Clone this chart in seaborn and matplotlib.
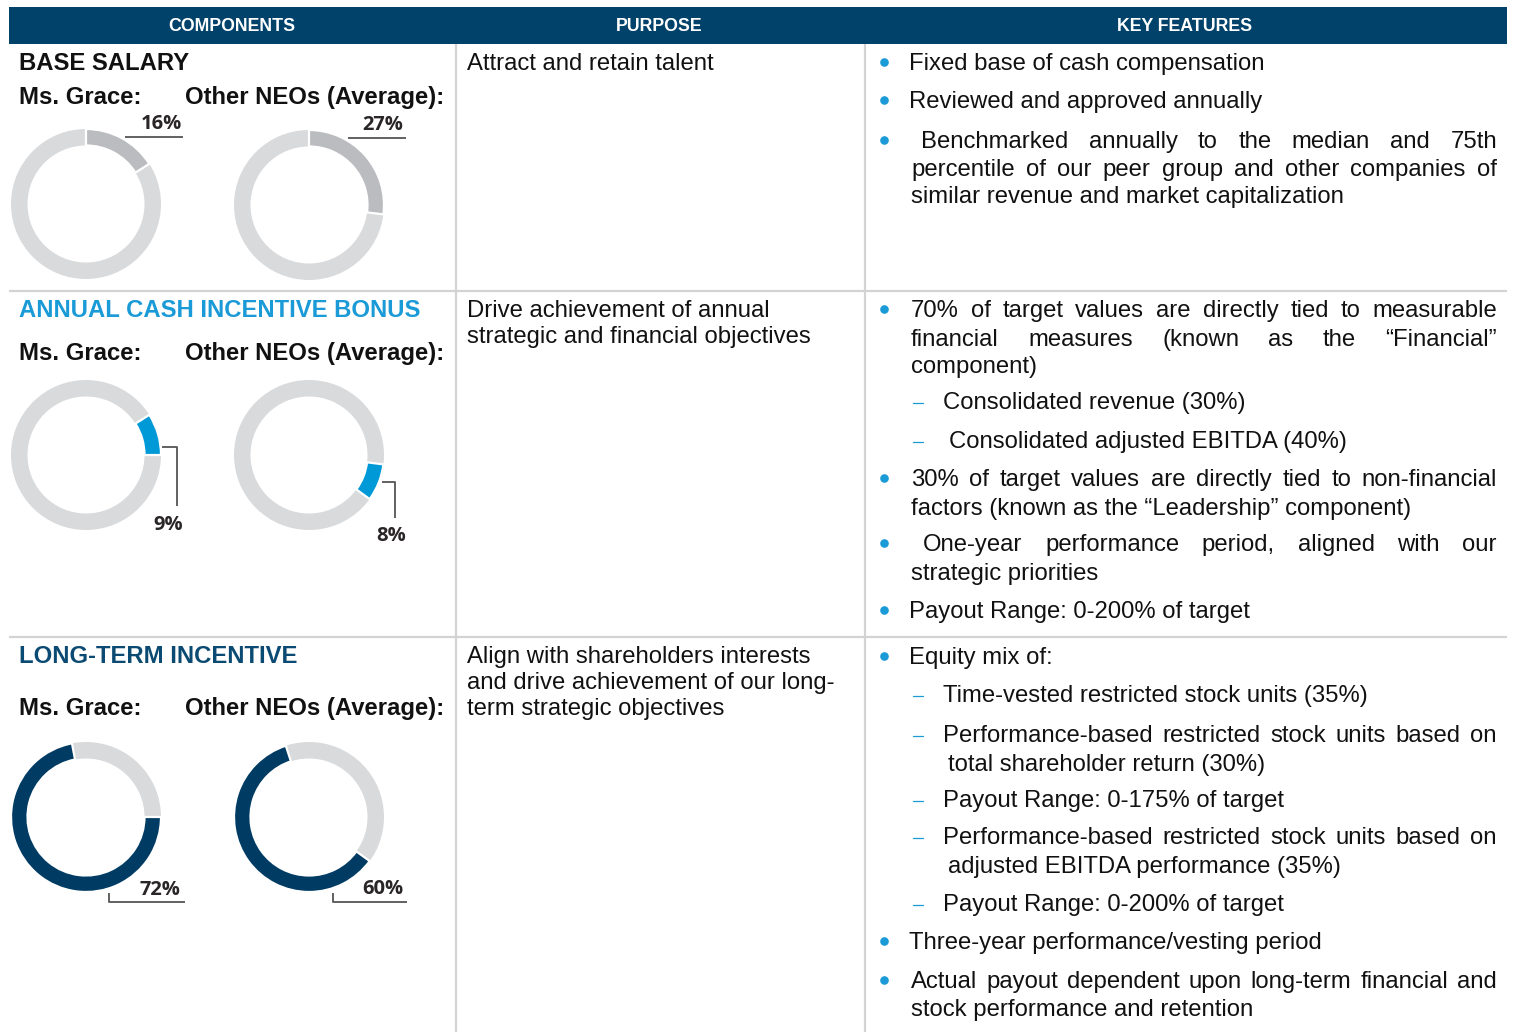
import matplotlib
matplotlib.use("Agg")
import matplotlib.pyplot as plt
import seaborn as sns

# ---------------- data ----------------
headers = ["COMPONENTS", "PURPOSE", "KEY FEATURES"]
components = ["BASE SALARY", "ANNUAL CASH INCENTIVE BONUS", "LONG-TERM INCENTIVE"]
people = ["Ms. Grace:", "Other NEOs (Average):"]
ceo_mix = [16, 9, 72]      # Ms. Grace pay mix (%)
neo_mix = [27, 8, 60]      # Other NEOs average pay mix (%)
purposes = [
    ["Attract and retain talent"],
    ["Drive achievement of annual", "strategic and financial objectives"],
    ["Align with shareholders interests", "and drive achievement of our long-",
     "term strategic objectives"],
]
# (style, text, justified)  b=bullet, c=continuation, d=dash item, e=dash continuation
features = [
    [("b", "Fixed base of cash compensation", False),
     ("b", "Reviewed and approved annually", False),
     ("b", "Benchmarked annually to the median and 75th", True),
     ("c", "percentile of our peer group and other companies of", True),
     ("c", "similar revenue and market capitalization", False)],
    [("b", "70% of target values are directly tied to measurable", True),
     ("c", "financial measures (known as the \u201cFinancial\u201d", True),
     ("c", "component)", False),
     ("d", "Consolidated revenue (30%)", False),
     ("d", "Consolidated adjusted EBITDA (40%)", False),
     ("b", "30% of target values are directly tied to non-financial", True),
     ("c", "factors (known as the \u201cLeadership\u201d component)", False),
     ("b", "One-year performance period, aligned with our", True),
     ("c", "strategic priorities", False),
     ("b", "Payout Range: 0-200% of target", False)],
    [("b", "Equity mix of:", False),
     ("d", "Time-vested restricted stock units (35%)", False),
     ("d", "Performance-based restricted stock units based on", True),
     ("e", "total shareholder return (30%)", False),
     ("d", "Payout Range: 0-175% of target", False),
     ("d", "Performance-based restricted stock units based on", True),
     ("e", "adjusted EBITDA performance (35%)", False),
     ("d", "Payout Range: 0-200% of target", False),
     ("b", "Three-year performance/vesting period", False),
     ("b", "Actual payout dependent upon long-term financial and", True),
     ("c", "stock performance and retention", False)],
]

# ---------------- layout ----------------
W, H = 1517, 1032
NAVY = "#00426a"
BLUE = "#1a9ad6"
LTI_NAVY = "#003b64"
RING_GRAY = "#d9dadc"
HI_COLORS = ["#bbbcbf", "#0099d8", LTI_NAVY]
HEAD_COLORS = ["#111111", "#1a9ad6", "#0b4a72"]
GRID = "#d3d3d3"

row_top = [44, 291, 637]
head_base = [70, 317, 663]
people_base = [104, 360, 715]
donut_cy = [[204, 205], [455, 455], [817, 817]]
donut_cx = [86, 309]
R_OUT, RING_W = 75, 16.5
purpose_base = [[70], [317, 343], [663, 689, 715]]
feat_base = [
    [70, 108, 148, 176, 203],
    [317, 346, 373, 409, 448, 486, 515, 551, 580, 618],
    [664, 702, 742, 771, 807, 844, 873, 911, 949, 988, 1016],
]
feat_x = [
    [909, 909, 921, 911, 911],
    [911, 911, 911, 943, 949, 911, 911, 923, 911, 909],
    [909, 943, 943, 948, 943, 943, 948, 943, 909, 911, 911],
]
X_RIGHT = 1497

sns.set_theme(style="white")
plt.rcParams["font.family"] = ["Liberation Sans", "DejaVu Sans"]

fig = plt.figure(figsize=(W / 100, H / 100), dpi=100)
ax = fig.add_axes([0, 0, 1, 1])
ax.set_xlim(0, W)
ax.set_ylim(H, 0)
ax.axis("off")
renderer = fig.canvas.get_renderer()

FS = 17.2
# header bar
ax.add_patch(plt.Rectangle((9, 7), 1498, 37, color=NAVY, lw=0))
for hx, htxt in zip([232, 659, 1185], headers):
    ax.text(hx, 31, htxt, color="white", fontsize=12.8, fontweight="bold",
            ha="center", va="baseline")

# grid lines
for x in [456, 865]:
    ax.plot([x, x], [44, H], color=GRID, lw=1.6, solid_capstyle="butt")
for y in row_top[1:]:
    ax.plot([9, 1507], [y, y], color=GRID, lw=1.6, solid_capstyle="butt")


def justified(text, x0, x1, y, **kw):
    words = text.split()
    objs = [ax.text(0, y, w, va="baseline", ha="left", **kw) for w in words]
    widths = [o.get_window_extent(renderer).width for o in objs]
    gap = (x1 - x0 - sum(widths)) / max(len(words) - 1, 1)
    x = x0
    for o, w in zip(objs, widths):
        o.set_x(x)
        x += w + gap


for r in range(3):
    # component column
    ax.text(19, head_base[r], components[r], color=HEAD_COLORS[r], fontsize=FS,
            fontweight="bold", va="baseline")
    ax.text(19, people_base[r], people[0], color="#111111", fontsize=FS,
            fontweight="bold", va="baseline")
    ax.text(185, people_base[r], people[1], color="#111111", fontsize=FS,
            fontweight="bold", va="baseline")
    # purpose column
    for line, yb in zip(purposes[r], purpose_base[r]):
        ax.text(467, yb, line, color="#111111", fontsize=FS, va="baseline")
    # key features column
    for (style, txt, just), yb, x0 in zip(features[r], feat_base[r], feat_x[r]):
        if style == "b":
            ax.plot([884], [yb - 8], "o", color=BLUE, ms=6.2, mec="none")
        elif style == "d":
            ax.plot([913, 923], [yb - 6, yb - 6], color=BLUE, lw=0.9)
        if just:
            justified(txt, x0, X_RIGHT, yb, color="#111111", fontsize=FS)
        else:
            ax.text(x0, yb, txt, color="#111111", fontsize=FS, va="baseline")

# ---------------- donuts ----------------
mixes = [ceo_mix, neo_mix]
for r in range(3):
    for p in range(2):
        vals = mixes[p]
        prev = sum(vals[:r])
        val = vals[r]
        rest = 100 - prev - val
        cx, cy = donut_cx[p], donut_cy[r][p]
        dax = fig.add_axes([(cx - R_OUT) / W, 1 - (cy + R_OUT) / H,
                            2 * R_OUT / W, 2 * R_OUT / H])
        dax.pie([100], colors=[RING_GRAY], radius=1, startangle=90,
                wedgeprops=dict(width=RING_W / R_OUT, linewidth=0))
        sizes = [s for s in [prev, val, rest] if s > 0]
        wedges, _ = dax.pie(sizes, radius=1, startangle=90, counterclock=False,
                            colors=["none"] * len(sizes),
                            wedgeprops=dict(width=RING_W / R_OUT, linewidth=0))
        idx = 1 if prev > 0 else 0
        wedges[idx].set_facecolor(HI_COLORS[r])
        wedges[idx].set_edgecolor("white")
        wedges[idx].set_linewidth(1.6)
        for k, wd in enumerate(wedges):
            if k != idx:
                wd.set_visible(False)
        dax.set_xlim(-1, 1)
        dax.set_ylim(-1, 1)
        dax.set_aspect("equal")
        dax.axis("off")

# ---------------- percentage labels ----------------
LBL = dict(fontsize=14.5, fontweight="bold", color="#2a2627",
           family=["Open Sans", "DejaVu Sans"], ha="center", va="baseline")
LC = dict(color="#555555", lw=1.3, solid_capstyle="butt")
# row 1
ax.text(161, 129, f"{ceo_mix[0]}%", **LBL)
ax.plot([125, 183], [137, 137], **LC)
ax.text(383, 130, f"{neo_mix[0]}%", **LBL)
ax.plot([348, 406], [138, 138], **LC)
# row 2
ax.text(168, 530, f"{ceo_mix[1]}%", **LBL)
ax.plot([162, 177, 177], [447, 447, 506], **LC)
ax.text(391, 541, f"{neo_mix[1]}%", **LBL)
ax.plot([382, 395, 395], [482, 482, 518], **LC)
# row 3
ax.text(160, 895, f"{ceo_mix[2]}%", **LBL)
ax.plot([109, 109, 185], [893, 902, 902], **LC)
ax.text(383, 894, f"{neo_mix[2]}%", **LBL)
ax.plot([333, 333, 407], [893, 902, 902], **LC)

fig.savefig("out.png", dpi=100)
